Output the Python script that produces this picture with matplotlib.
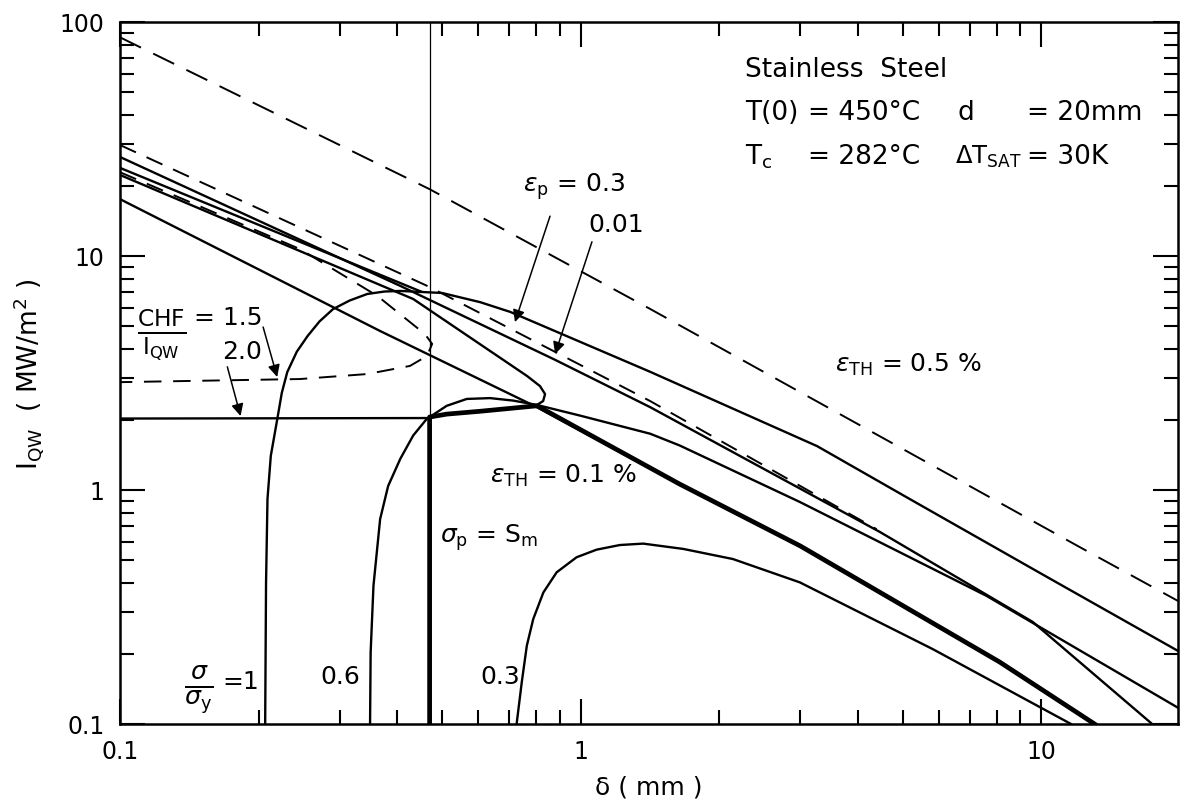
import numpy as np
import matplotlib.pyplot as plt

# epsilon_TH = 0.5 % (dashed)
eth05_x = [0.1, 0.47, 1.415, 12.1, 20.0]
eth05_y = [86, 19.3, 5.94, 0.571, 0.332]

# epsilon_TH = 0.1 % (solid)
eth01_x = [0.1, 0.367, 0.8, 1.64, 3.0, 8.12, 13.05]
eth01_y = [17.5, 4.78, 2.27, 1.06, 0.576, 0.184, 0.1]

# epsilon_p = 0.01 (solid) and dashed companion
ep001_x = [0.1, 0.406, 0.88, 1.415, 4.46, 9.58, 17.4]
ep001_y = [26.5, 7.45, 3.6, 2.26, 0.662, 0.273, 0.1]
ep001d_x = [0.1, 0.47, 1.415, 4.39]
ep001d_y = [29.8, 7.37, 2.40, 0.68]

# sigma/sigma_y = 1 (joins epsilon_p = 0.3)
s10_x = [0.2066, 0.2075, 0.209, 0.2125, 0.2195, 0.2245, 0.2307, 0.242, 0.2554, 0.271, 0.290,
         0.315, 0.344, 0.375, 0.406, 0.5, 0.605, 0.703, 1.415, 3.26, 5.18, 10.2, 20.0]
s10_y = [0.1, 0.4, 0.915, 1.4, 2.01, 2.6, 3.19, 3.9, 4.55, 5.25, 5.93,
         6.45, 6.88, 7.05, 7.09, 6.95, 6.35, 5.77, 3.2, 1.54, 0.915, 0.429, 0.203]
upper_x = [0.1, 0.45]
upper_y = [23.8, 7.05]

# sigma/sigma_y = 0.6
s06_x = [0.349, 0.350, 0.355, 0.367, 0.382, 0.406, 0.433, 0.463, 0.512, 0.566, 0.636, 0.714,
         0.803, 0.9965, 1.415, 1.64, 2.99, 7.6, 20.0]
s06_y = [0.1, 0.202, 0.39, 0.751, 1.04, 1.36, 1.71, 2.01, 2.29, 2.45, 2.47, 2.41,
         2.31, 2.08, 1.74, 1.55, 0.889, 0.353, 0.116]

# sigma/sigma_y = 0.3
s03_x = [0.726, 0.745, 0.764, 0.789, 0.830, 0.887, 0.980, 1.083, 1.217, 1.367, 1.67, 2.14,
         2.99, 5.81, 11.6]
s03_y = [0.1, 0.151, 0.216, 0.281, 0.365, 0.445, 0.516, 0.556, 0.582, 0.590, 0.56, 0.507,
         0.403, 0.209, 0.1]

# CHF / I_QW = 2.0 (solid) and 1.5 (dashed)
chf20_x = [0.1, 0.433, 0.765, 0.816, 0.837, 0.829, 0.804]
chf20_y = [22.2, 6.55, 3.07, 2.78, 2.57, 2.40, 2.31]
chf20h_x = [0.1, 0.47]
chf20h_y = [2.02, 2.03]
chf15_x = [0.1, 0.246, 0.362, 0.459, 0.476, 0.464, 0.426, 0.344, 0.246, 0.1]
chf15_y = [22.8, 10.7, 6.75, 4.64, 4.21, 3.74, 3.39, 3.13, 2.98, 2.89]

# sigma_p = S_m limit (thick)
lim_x = [0.47, 0.47, 0.512, 0.605, 0.804, 1.64, 3.0, 8.12, 13.05]
lim_y = [0.1, 2.05, 2.11, 2.17, 2.29, 1.06, 0.576, 0.184, 0.1]
vline_x = 0.47

k = 'black'
fig = plt.figure(figsize=(11.8, 8.03), dpi=100)
ax = fig.add_axes([120/1180, 78/803, 1058/1180, 702/803])
ax.set_xscale('log')
ax.set_yscale('log')
ax.set_xlim(0.1, 19.8)
ax.set_ylim(0.1, 100)

ax.plot(eth05_x, eth05_y, color=k, lw=1.4, dashes=(12, 7))
ax.plot(ep001d_x, ep001d_y, color=k, lw=1.4, dashes=(9, 6))
ax.plot(chf15_x, chf15_y, color=k, lw=1.4, dashes=(9, 6))
for xs, ys in [(eth01_x, eth01_y), (ep001_x, ep001_y), (s10_x, s10_y), (upper_x, upper_y),
               (s06_x, s06_y), (s03_x, s03_y), (chf20_x, chf20_y), (chf20h_x, chf20h_y)]:
    ax.plot(xs, ys, color=k, lw=1.7, solid_joinstyle='round')
ax.plot(lim_x, lim_y, color=k, lw=3.4, solid_joinstyle='round')
ax.plot([vline_x, vline_x], [2.03, 100], color=k, lw=0.9)

for s in ax.spines.values():
    s.set_linewidth(1.8)
ax.tick_params(which='both', direction='in', top=True, right=True, width=1.5)
ax.tick_params(which='major', length=18, labelsize=17, pad=11)
ax.tick_params(which='minor', length=10)
ax.set_xticks([0.1, 1, 10], ['0.1', '1', '10'])
ax.set_yticks([0.1, 1, 10, 100], ['0.1', '1', '10', '100'])
ax.xaxis.set_minor_formatter(plt.NullFormatter())
ax.yaxis.set_minor_formatter(plt.NullFormatter())
ax.set_xlabel('δ ( mm )', fontsize=18, labelpad=8)
ax.set_ylabel(r'I$_{\mathrm{QW}}$  ( MW/m$^2$ )', fontsize=19, labelpad=10)

fs = 19
ax.text(2.272, 63, 'Stainless  Steel', fontsize=fs, va='center')
ax.text(2.272, 41.2, 'T(0)', fontsize=fs, va='center')
ax.text(3.11, 41.2, '= 450°C', fontsize=fs, va='center')
ax.text(6.58, 41.2, 'd', fontsize=fs, va='center')
ax.text(9.29, 41.2, '= 20mm', fontsize=fs, va='center')
ax.text(2.272, 26.7, r'T$_{\mathrm{c}}$', fontsize=fs, va='center')
ax.text(3.11, 26.7, '= 282°C', fontsize=fs, va='center')
ax.text(6.49, 26.7, r'ΔT$_{\mathrm{SAT}}$', fontsize=17.5, va='center')
ax.text(9.29, 26.7, '= 30K', fontsize=fs, va='center')

fa = 18
ax.text(0.75, 19.9, r'$\varepsilon_{\mathrm{p}}$ = 0.3', fontsize=fa, va='center')
ax.text(1.037, 13.7, '0.01', fontsize=fa, va='center')
ax.text(3.56, 3.46, r'$\varepsilon_{\mathrm{TH}}$ = 0.5 %', fontsize=fa, va='center')
ax.text(0.636, 1.16, r'$\varepsilon_{\mathrm{TH}}$ = 0.1 %', fontsize=fa, va='center')
ax.text(0.495, 0.63, r'$\sigma_{\mathrm{p}}$ = S$_{\mathrm{m}}$', fontsize=fa, va='center')
ax.text(0.605, 0.16, '0.3', fontsize=fa, va='center')
ax.text(0.272, 0.16, '0.6', fontsize=fa, va='center')
ax.text(0.148, 0.142, r'$\frac{\sigma}{\sigma_{\mathrm{y}}}$', fontsize=26, va='center', ha='center')
ax.text(0.167, 0.153, '=1', fontsize=fa, va='center')
ax.text(0.123, 4.64, r'$\frac{\mathrm{CHF}}{\mathrm{I_{QW}}}$', fontsize=24, va='center', ha='center')
ax.text(0.145, 5.49, '= 1.5', fontsize=fa, va='center')
ax.text(0.167, 3.93, '2.0', fontsize=fa, va='center')

arrow = dict(arrowstyle='-|>', lw=1.1, color=k, mutation_scale=18, shrinkA=0, shrinkB=0)
ax.annotate('', xy=(0.72, 5.22), xytext=(0.858, 14.8), arrowprops=arrow)
ax.annotate('', xy=(0.88, 3.81), xytext=(1.058, 11.5), arrowprops=arrow)
ax.annotate('', xy=(0.2194, 3.04), xytext=(0.2045, 4.97), arrowprops=arrow)
ax.annotate('', xy=(0.1827, 2.07), xytext=(0.171, 3.36), arrowprops=arrow)

fig.savefig('out.png', dpi=100)
